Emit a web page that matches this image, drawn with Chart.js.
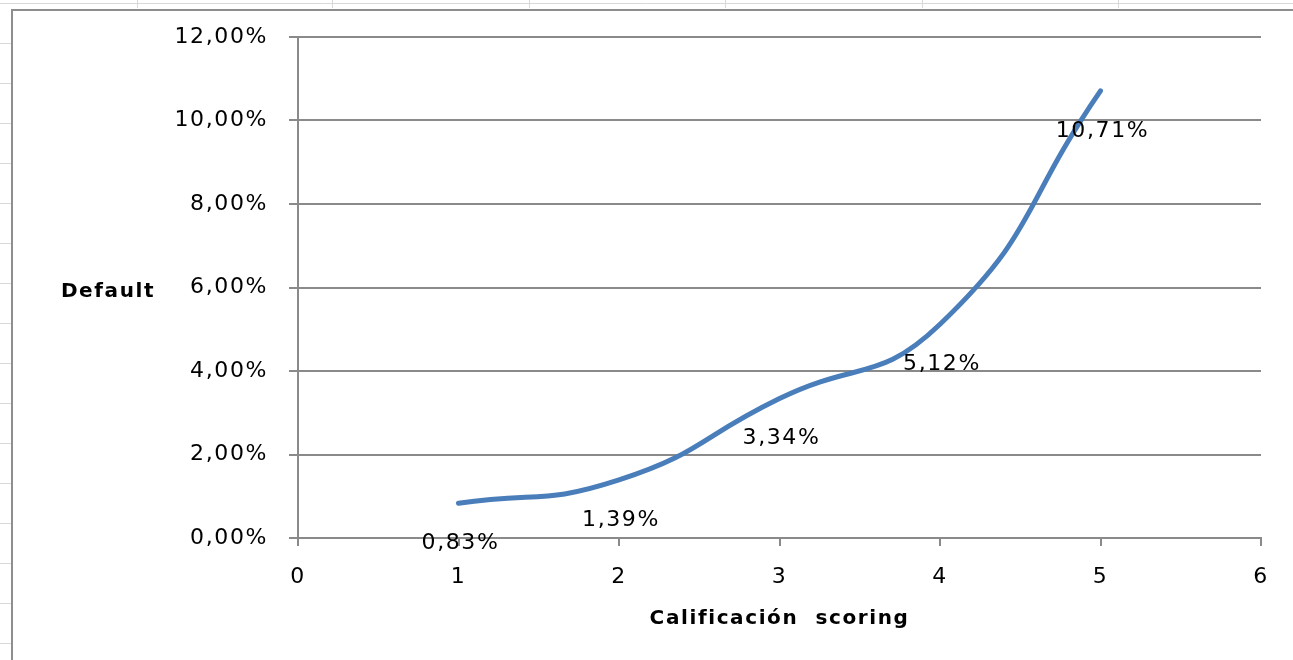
<!DOCTYPE html>
<html>
<head>
<meta charset="utf-8">
<script src="https://cdn.jsdelivr.net/npm/chart.js@4.4.1/dist/chart.umd.min.js"></script>
<style>
  html, body { margin: 0; padding: 0; background: #ffffff; }
  #wrap { position: relative; width: 1293px; height: 660px; }
</style>
</head>
<body>
<div id="wrap"><canvas id="c" width="1293" height="660"></canvas></div>
<script>
// ---- data ----
const scoring = [1, 2, 3, 4, 5];
const defaultRate = [0.83, 1.39, 3.34, 5.12, 10.71];
const xTicks = [0, 1, 2, 3, 4, 5, 6];
const yTicks = [0, 2, 4, 6, 8, 10, 12];
const xTitle = 'Calificación  scoring';
const yTitle = 'Default';

const fmt = v => v.toFixed(2).replace('.', ',') + '%';
const FONT = '"DejaVu Sans", Verdana, sans-serif';
const SPACING = '1.6px';

// spreadsheet backdrop + chart frame
const backdrop = {
  id: 'backdrop',
  beforeInit(chart) { chart.ctx.letterSpacing = SPACING; },
  beforeDraw(chart) {
    const ctx = chart.ctx;
    ctx.letterSpacing = SPACING;
    const W = chart.width, H = chart.height;
    ctx.save();
    ctx.fillStyle = '#ffffff';
    ctx.fillRect(0, 0, W, H);
    ctx.strokeStyle = '#d9d9d9';
    ctx.lineWidth = 1;
    ctx.beginPath();
    [137, 332, 529, 725, 922, 1118].forEach(x => { ctx.moveTo(x + 0.5, 0); ctx.lineTo(x + 0.5, 8); });
    ctx.moveTo(0, 3.5); ctx.lineTo(W, 3.5);
    for (let y = 43; y < H; y += 40) { ctx.moveTo(0, y + 0.5); ctx.lineTo(11, y + 0.5); }
    ctx.stroke();
    ctx.strokeStyle = '#8e8e8e';
    ctx.lineWidth = 2;
    ctx.beginPath();
    ctx.moveTo(12, H + 2); ctx.lineTo(12, 10); ctx.lineTo(W + 2, 10);
    ctx.stroke();
    ctx.restore();
  }
};

// data labels + horizontal y title
const extras = {
  id: 'extras',
  afterDatasetsDraw(chart) {
    const ctx = chart.ctx;
    const meta = chart.getDatasetMeta(0);
    ctx.save();
    ctx.letterSpacing = SPACING;
    ctx.fillStyle = '#000';
    ctx.font = '22px ' + FONT;
    ctx.textAlign = 'center';
    ctx.textBaseline = 'middle';
    meta.data.forEach((pt, i) => {
      ctx.fillText(fmt(defaultRate[i]), pt.x + 2, pt.y + 40);
    });
    const a = chart.chartArea;
    ctx.font = 'bold 20px ' + FONT;
    ctx.fillText(yTitle, a.left - 190, (a.top + a.bottom) / 2 + 4);
    ctx.restore();
  }
};

new Chart(document.getElementById('c'), {
  type: 'line',
  data: {
    datasets: [{
      data: scoring.map((x, i) => ({ x: x, y: defaultRate[i] })),
      borderColor: '#4a7ebb',
      borderWidth: 5,
      borderCapStyle: 'round',
      pointRadius: 0,
      tension: 0.5,
      fill: false
    }]
  },
  options: {
    responsive: false,
    animation: false,
    events: [],
    layout: { padding: { left: 0, top: 37, right: 32, bottom: 0 } },
    plugins: { legend: { display: false }, tooltip: { enabled: false } },
    scales: {
      x: {
        type: 'linear',
        min: xTicks[0], max: xTicks[xTicks.length - 1],
        afterBuildTicks: s => { s.ticks = xTicks.map(v => ({ value: v })); },
        afterFit: s => { s.height = 122; },
        grid: { drawOnChartArea: false, drawTicks: true, tickLength: 8, color: '#8a8a8a', lineWidth: 2 },
        border: { display: true, color: '#8a8a8a', width: 2 },
        ticks: { color: '#000', font: { family: FONT, size: 22 }, padding: 18, maxRotation: 0 },
        title: { display: true, text: xTitle, color: '#000', font: { family: FONT, size: 20, weight: 'bold' }, padding: { top: 0, bottom: 29 } }
      },
      y: {
        type: 'linear',
        min: yTicks[0], max: yTicks[yTicks.length - 1],
        afterBuildTicks: s => { s.ticks = yTicks.map(v => ({ value: v })); },
        afterFit: s => { s.width = 298; },
        grid: { drawOnChartArea: true, drawTicks: true, tickLength: 9, color: '#8a8a8a', lineWidth: 2 },
        border: { display: true, color: '#8a8a8a', width: 2 },
        ticks: { color: '#000', font: { family: FONT, size: 22 }, padding: 21, callback: v => fmt(v) }
      }
    }
  },
  plugins: [backdrop, extras]
});
</script>
</body>
</html>
